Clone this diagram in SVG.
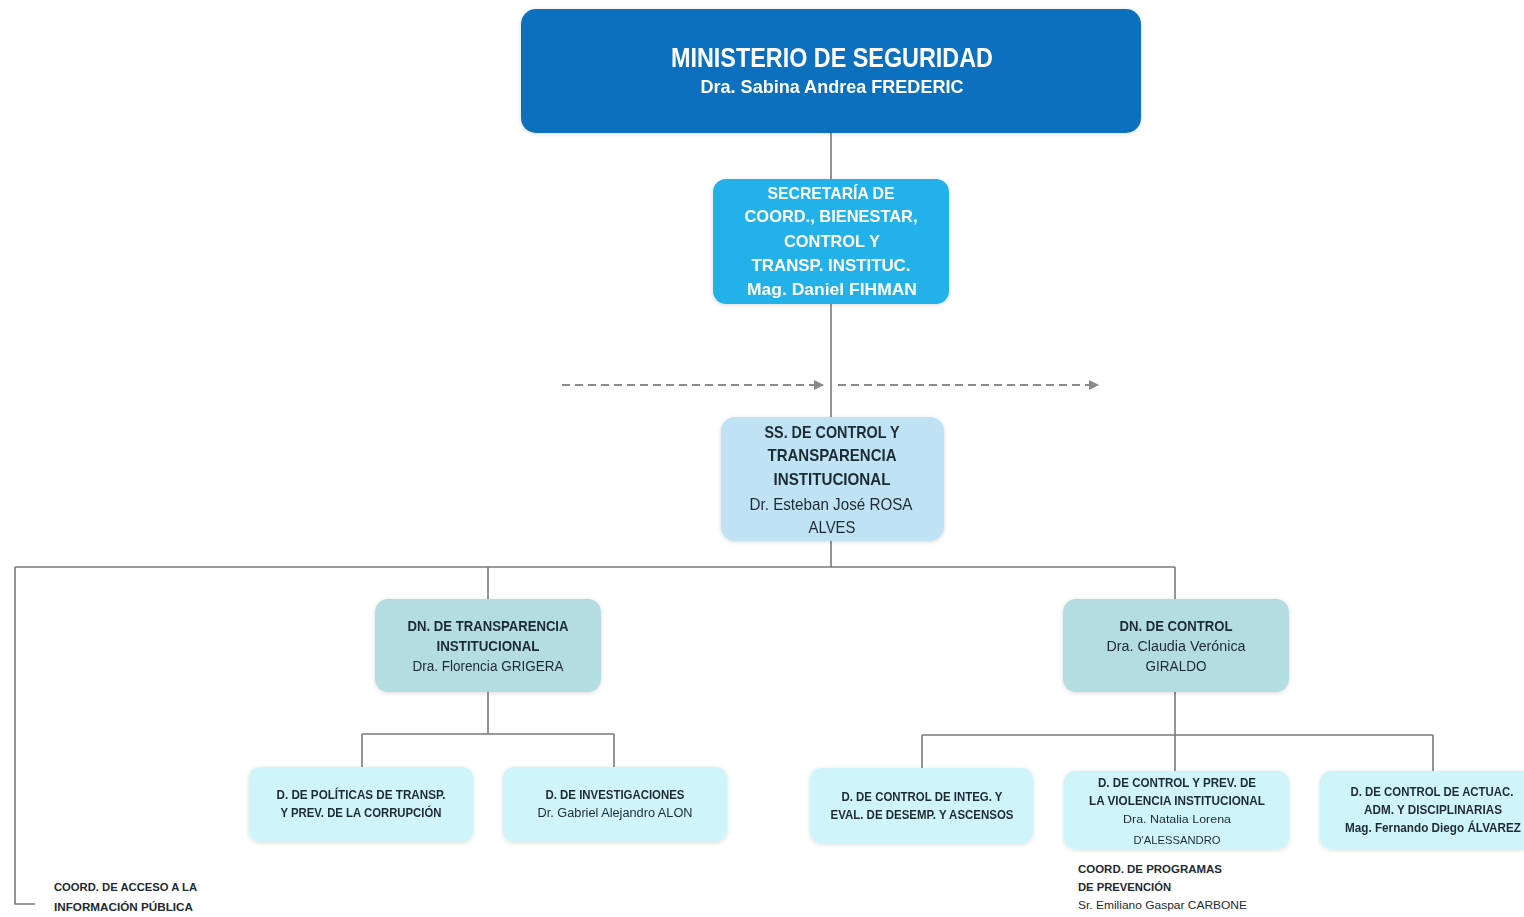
<svg xmlns="http://www.w3.org/2000/svg" width="1524" height="917" viewBox="0 0 1524 917">
<defs>
<style>
text{font-family:"Liberation Sans",Arial,sans-serif;text-anchor:middle}
.w{fill:#ffffff;font-weight:bold}
.d{fill:#1f2a33;font-weight:bold}
.n{fill:#1f2a33;font-weight:normal}
.l{text-anchor:start}
.ln{stroke:#7a7a7a;stroke-width:1.6;fill:none}
.dash{stroke:#8a8a8a;stroke-width:2;stroke-dasharray:8 5;fill:none}
</style>
<marker id="ah" viewBox="0 0 10 10" refX="9" refY="5" markerWidth="5" markerHeight="5" orient="auto" markerUnits="strokeWidth"><path d="M0,0 L10,5 L0,10 z" fill="#8a8a8a"/></marker>
<filter id="sh" x="-5%" y="-10%" width="110%" height="120%"><feGaussianBlur in="SourceAlpha" stdDeviation="2"/><feOffset dx="0" dy="1"/><feComponentTransfer><feFuncA type="linear" slope="0.15"/></feComponentTransfer><feMerge><feMergeNode/><feMergeNode in="SourceGraphic"/></feMerge></filter>
</defs>
<rect width="1524" height="917" fill="#ffffff"/>
<g id="connectors">
<path class="ln" d="M831,133 V179 M831,304 V417 M831,541 V567 M15,567 H1175 M15,567 V904 H35 M488,567 V599 M1175,567 V599 M488,692 V734 M362,734 H614 M362,734 V767 M614,734 V767 M1175,692 V735 M922,735 H1433 M922,735 V768 M1175,735 V771 M1433,735 V771"/>
<path class="dash" d="M562,385 H823" marker-end="url(#ah)"/>
<path class="dash" d="M838,385 H1098" marker-end="url(#ah)"/>
</g>
<g id="ministerio" filter="url(#sh)">
<rect x="521" y="9" width="620" height="124" rx="15" fill="#0b70bf"/>
<text class="w" x="832" y="67" font-size="28" textLength="322" lengthAdjust="spacingAndGlyphs">MINISTERIO DE SEGURIDAD</text>
<text class="w" x="832" y="93" font-size="19" textLength="263" lengthAdjust="spacingAndGlyphs">Dra. Sabina Andrea FREDERIC</text>
</g>
<g id="secretaria" filter="url(#sh)">
<rect x="713" y="179" width="236" height="125" rx="13" fill="#22b1e8"/>
<text class="w" x="831" y="199" font-size="17" textLength="127" lengthAdjust="spacingAndGlyphs">SECRETARÍA DE</text>
<text class="w" x="831" y="222" font-size="17" textLength="173" lengthAdjust="spacingAndGlyphs">COORD., BIENESTAR,</text>
<text class="w" x="832" y="247" font-size="17" textLength="96" lengthAdjust="spacingAndGlyphs">CONTROL Y</text>
<text class="w" x="831" y="271" font-size="17" textLength="159" lengthAdjust="spacingAndGlyphs">TRANSP. INSTITUC.</text>
<text class="w" x="832" y="295" font-size="17" textLength="170" lengthAdjust="spacingAndGlyphs">Mag. Daniel FIHMAN</text>
</g>
<g id="subsecretaria" filter="url(#sh)">
<rect x="721" y="417" width="223" height="124" rx="14" fill="#bfe3f5"/>
<text class="d" x="832" y="438" font-size="17" textLength="135" lengthAdjust="spacingAndGlyphs">SS. DE CONTROL Y</text>
<text class="d" x="832" y="461" font-size="17" textLength="129" lengthAdjust="spacingAndGlyphs">TRANSPARENCIA</text>
<text class="d" x="832" y="485" font-size="17" textLength="117" lengthAdjust="spacingAndGlyphs">INSTITUCIONAL</text>
<text class="n" x="831" y="510" font-size="17" textLength="163" lengthAdjust="spacingAndGlyphs">Dr. Esteban José ROSA</text>
<text class="n" x="832" y="533" font-size="17" textLength="47" lengthAdjust="spacingAndGlyphs">ALVES</text>
</g>
<g id="dn-transparencia" filter="url(#sh)">
<rect x="375" y="599" width="226" height="93" rx="13" fill="#b4dde2"/>
<text class="d" x="488" y="631" font-size="14" textLength="161" lengthAdjust="spacingAndGlyphs">DN. DE TRANSPARENCIA</text>
<text class="d" x="488" y="651" font-size="14" textLength="103" lengthAdjust="spacingAndGlyphs">INSTITUCIONAL</text>
<text class="n" x="488" y="671" font-size="14" textLength="151" lengthAdjust="spacingAndGlyphs">Dra. Florencia GRIGERA</text>
</g>
<g id="dn-control" filter="url(#sh)">
<rect x="1063" y="599" width="226" height="93" rx="13" fill="#b4dde2"/>
<text class="d" x="1176" y="631" font-size="14" textLength="113" lengthAdjust="spacingAndGlyphs">DN. DE CONTROL</text>
<text class="n" x="1176" y="651" font-size="14" textLength="139" lengthAdjust="spacingAndGlyphs">Dra. Claudia Verónica</text>
<text class="n" x="1176" y="671" font-size="14" textLength="61" lengthAdjust="spacingAndGlyphs">GIRALDO</text>
</g>
<g id="d-politicas" filter="url(#sh)">
<rect x="249" y="767" width="224" height="75" rx="11" fill="#cff5fa"/>
<text class="d" x="361" y="799" font-size="12" textLength="169" lengthAdjust="spacingAndGlyphs">D. DE  POLÍTICAS DE TRANSP.</text>
<text class="d" x="361" y="817" font-size="12" textLength="161" lengthAdjust="spacingAndGlyphs">Y PREV. DE LA CORRUPCIÓN</text>
</g>
<g id="d-investigaciones" filter="url(#sh)">
<rect x="503" y="767" width="224" height="75" rx="11" fill="#cff5fa"/>
<text class="d" x="615" y="799" font-size="12" textLength="139" lengthAdjust="spacingAndGlyphs">D. DE INVESTIGACIONES</text>
<text class="n" x="615" y="817" font-size="12" textLength="155" lengthAdjust="spacingAndGlyphs">Dr. Gabriel Alejandro ALON</text>
</g>
<g id="d-control-integ" filter="url(#sh)">
<rect x="810" y="768" width="223" height="75" rx="11" fill="#cff5fa"/>
<text class="d" x="922" y="801" font-size="12" textLength="161" lengthAdjust="spacingAndGlyphs">D. DE CONTROL DE INTEG. Y</text>
<text class="d" x="922" y="819" font-size="12" textLength="183" lengthAdjust="spacingAndGlyphs">EVAL. DE DESEMP. Y ASCENSOS</text>
</g>
<g id="d-control-violencia" filter="url(#sh)">
<rect x="1064" y="771" width="225" height="78" rx="11" fill="#cff5fa"/>
<text class="d" x="1177" y="787" font-size="12" textLength="158" lengthAdjust="spacingAndGlyphs">D. DE CONTROL Y PREV. DE</text>
<text class="d" x="1177" y="805" font-size="12" textLength="176" lengthAdjust="spacingAndGlyphs">LA VIOLENCIA INSTITUCIONAL</text>
<text class="n" x="1177" y="823" font-size="11" textLength="108" lengthAdjust="spacingAndGlyphs">Dra. Natalia Lorena</text>
<text class="n" x="1177" y="844" font-size="11" textLength="87" lengthAdjust="spacingAndGlyphs">D'ALESSANDRO</text>
</g>
<g id="d-control-actuac" filter="url(#sh)">
<rect x="1320" y="771" width="214" height="78" rx="11" fill="#cff5fa"/>
<text class="d" x="1432" y="796" font-size="12" textLength="163" lengthAdjust="spacingAndGlyphs">D. DE CONTROL DE ACTUAC.</text>
<text class="d" x="1433" y="814" font-size="12" textLength="138" lengthAdjust="spacingAndGlyphs">ADM. Y DISCIPLINARIAS</text>
<text class="d" x="1433" y="832" font-size="12" textLength="176" lengthAdjust="spacingAndGlyphs">Mag. Fernando Diego ÁLVAREZ</text>
</g>
<g id="coord-acceso">
<text class="d l" x="54" y="891" font-size="11" textLength="143" lengthAdjust="spacingAndGlyphs">COORD. DE ACCESO A LA</text>
<text class="d l" x="54" y="911" font-size="11" textLength="139" lengthAdjust="spacingAndGlyphs">INFORMACIÓN PÚBLICA</text>
</g>
<g id="coord-programas">
<text class="d l" x="1078" y="873" font-size="11" textLength="144" lengthAdjust="spacingAndGlyphs">COORD. DE PROGRAMAS</text>
<text class="d l" x="1078" y="891" font-size="11" textLength="93" lengthAdjust="spacingAndGlyphs">DE PREVENCIÓN</text>
<text class="n l" x="1078" y="909" font-size="11" textLength="169" lengthAdjust="spacingAndGlyphs">Sr. Emiliano Gaspar CARBONE</text>
</g>
</svg>
